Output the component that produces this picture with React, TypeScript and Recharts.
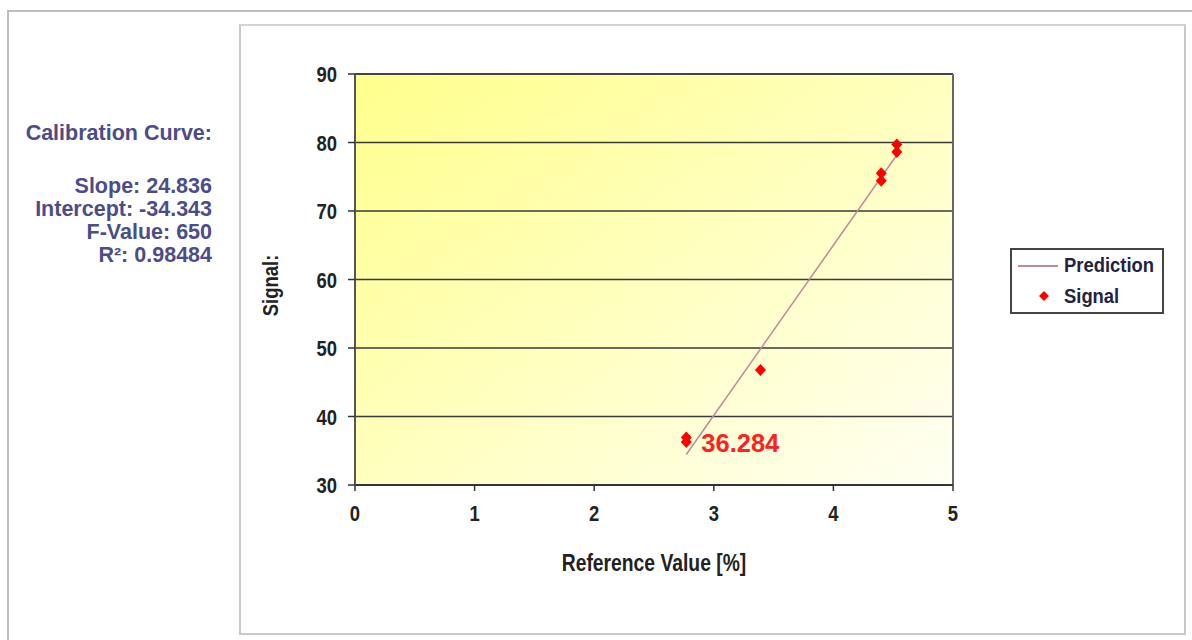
import {
  ComposedChart,
  Scatter,
  XAxis,
  YAxis,
  CartesianGrid,
  ReferenceLine,
  LabelList,
} from 'recharts';

// measured reference values and signals
const refValues = [2.77, 2.77, 3.39, 4.4, 4.4, 4.53, 4.53];
const signals = [36.284, 36.95, 46.8, 74.4, 75.5, 78.6, 79.7];
const pointLabels = ['36.284', '', '', '', '', '', ''];

// fitted prediction line end points
const predX = [2.77, 4.53];
const predY = [34.45, 78.17];

const xTicks = [0, 1, 2, 3, 4, 5];
const yTicks = [30, 40, 50, 60, 70, 80, 90];

const statLabels = ['Slope:', 'Intercept:', 'F-Value:', 'R²:'];
const statValues = ['24.836', '-34.343', '650', '0.98484'];

const signalData = refValues.map((x, i) => ({ x, y: signals[i], label: pointLabels[i] }));
const predData = predX.map((x, i) => ({ x, y: predY[i] }));

const sans = "'Liberation Sans', Arial, sans-serif";

// Arial Narrow look-alike: squeeze the bold sans horizontally
function NarrowText({ x, y, anchor, size, angle = 0, children }: any) {
  return (
    <text
      transform={`translate(${x},${y}) rotate(${angle}) scale(0.84,1)`}
      textAnchor={anchor}
      fontSize={size}
      fontWeight={700}
      fontFamily={sans}
      fill="#222"
    >
      {children}
    </text>
  );
}

function XTick(props: any) {
  const { x, y, payload } = props;
  return <NarrowText x={x} y={y + 28} anchor="middle" size={22}>{payload.value}</NarrowText>;
}

function YTick(props: any) {
  const { x, y, payload } = props;
  return <NarrowText x={x - 9} y={y + 8} anchor="end" size={22}>{payload.value}</NarrowText>;
}

function XLabel(props: any) {
  const { viewBox } = props;
  return (
    <NarrowText x={viewBox.x + viewBox.width / 2} y={viewBox.y + 86} anchor="middle" size={23}>
      Reference Value [%]
    </NarrowText>
  );
}

function YLabel(props: any) {
  const { viewBox } = props;
  return (
    <NarrowText x={37} y={viewBox.y + viewBox.height / 2 + 6} anchor="middle" size={22} angle={-90}>
      Signal:
    </NarrowText>
  );
}

function Diamond(props: any) {
  const { cx, cy } = props;
  if (cx == null || cy == null) return <g />;
  return (
    <polygon
      points={`${cx},${cy - 6} ${cx + 5.5},${cy} ${cx},${cy + 6} ${cx - 5.5},${cy}`}
      fill="#ff0000"
    />
  );
}

function PointLabel(props: any) {
  const { x, y, width, height, value } = props;
  if (!value) return null;
  const cx = x + (width || 0) / 2;
  const cy = y + (height || 0) / 2;
  return (
    <text x={cx + 15} y={cy + 10} fill="#ff2020" fontSize={25.5} fontWeight={700} fontFamily={sans}>
      {value}
    </text>
  );
}

function LegendBox() {
  return (
    <div
      style={{
        position: 'absolute',
        left: 1010,
        top: 248,
        width: 154,
        height: 66,
        border: '2px solid #444',
        background: '#fff',
        fontFamily: sans,
        fontWeight: 700,
        fontSize: 20,
        color: '#23233f',
        boxSizing: 'border-box',
      }}
    >
      <div style={{ display: 'flex', alignItems: 'center', height: 31, paddingLeft: 6 }}>
        <svg width={40} height={10}>
          <line x1={0} y1={5} x2={40} y2={5} stroke="#c0879a" strokeWidth={2} />
        </svg>
        <span style={{ marginLeft: 6, transform: 'scaleX(0.92)', transformOrigin: 'left' }}>Prediction</span>
      </div>
      <div style={{ display: 'flex', alignItems: 'center', height: 30, paddingLeft: 6 }}>
        <svg width={40} height={12}>
          <polygon points="26,1 31,6 26,11 21,6" fill="#ff0000" />
        </svg>
        <span style={{ marginLeft: 6, transform: 'scaleX(0.92)', transformOrigin: 'left' }}>Signal</span>
      </div>
    </div>
  );
}

export default function App() {
  return (
    <div style={{ position: 'absolute', left: 0, top: 0, width: 1192, height: 640, background: '#fff', overflow: 'hidden' }}>
      {/* outer frame */}
      <div style={{ position: 'absolute', left: 7, top: 10, width: 1200, height: 640, border: '2px solid #bdbdc2' }} />
      {/* statistics */}
      <div
        style={{
          position: 'absolute',
          right: 1192 - 212,
          top: 122,
          textAlign: 'right',
          fontFamily: sans,
          fontWeight: 700,
          fontSize: 21.5,
          color: '#4c4c88',
          lineHeight: '23px',
          whiteSpace: 'nowrap',
        }}
      >
        <div>Calibration Curve:</div>
        <div style={{ height: 30 }} />
        {statLabels.map((l, i) => (
          <div key={l}>
            {l} {statValues[i]}
          </div>
        ))}
      </div>
      {/* chart frame */}
      <div
        style={{
          position: 'absolute',
          left: 239,
          top: 24,
          width: 943,
          height: 607,
          border: '2px solid #c8c8cc',
          borderTopColor: '#d4d4d8',
        }}
      >
        <ComposedChart
          width={943}
          height={607}
          margin={{ top: 48, right: 231, bottom: 108, left: 54 }}
        >
          <defs>
            <linearGradient id="plotBg" x1="0" y1="0" x2="1" y2="1">
              <stop offset="0%" stopColor="#ffff8c" />
              <stop offset="55%" stopColor="#ffffc4" />
              <stop offset="100%" stopColor="#fffff4" />
            </linearGradient>
          </defs>
          <CartesianGrid vertical={false} stroke="#3a3a3a" strokeWidth={1.5} fill="url(#plotBg)" fillOpacity={1} />
          <XAxis
            type="number"
            dataKey="x"
            domain={[0, 5]}
            ticks={xTicks}
            tick={<XTick />}
            tickSize={6}
            axisLine={{ stroke: '#333', strokeWidth: 2 }}
            tickLine={{ stroke: '#333', strokeWidth: 1.5 }}
            height={40}
            label={<XLabel />}
          />
          <YAxis
            type="number"
            dataKey="y"
            domain={[30, 90]}
            ticks={yTicks}
            tick={<YTick />}
            tickSize={7}
            axisLine={{ stroke: '#555', strokeWidth: 2 }}
            tickLine={{ stroke: '#333', strokeWidth: 1.5 }}
            width={60}
            label={<YLabel />}
          />
          <ReferenceLine y={90} stroke="#444" strokeWidth={2} />
          <ReferenceLine x={5} stroke="#666" strokeWidth={2} />
          <Scatter
            name="Prediction"
            data={predData}
            line={{ stroke: '#c0879a', strokeWidth: 1.5 }}
            shape={() => <g />}
            isAnimationActive={false}
          />
          <Scatter
            name="Signal"
            data={signalData}
            fill="#ff0000"
            shape={<Diamond />}
            isAnimationActive={false}
          >
            <LabelList dataKey="label" content={PointLabel} />
          </Scatter>
        </ComposedChart>
      </div>
      <LegendBox />
    </div>
  );
}
